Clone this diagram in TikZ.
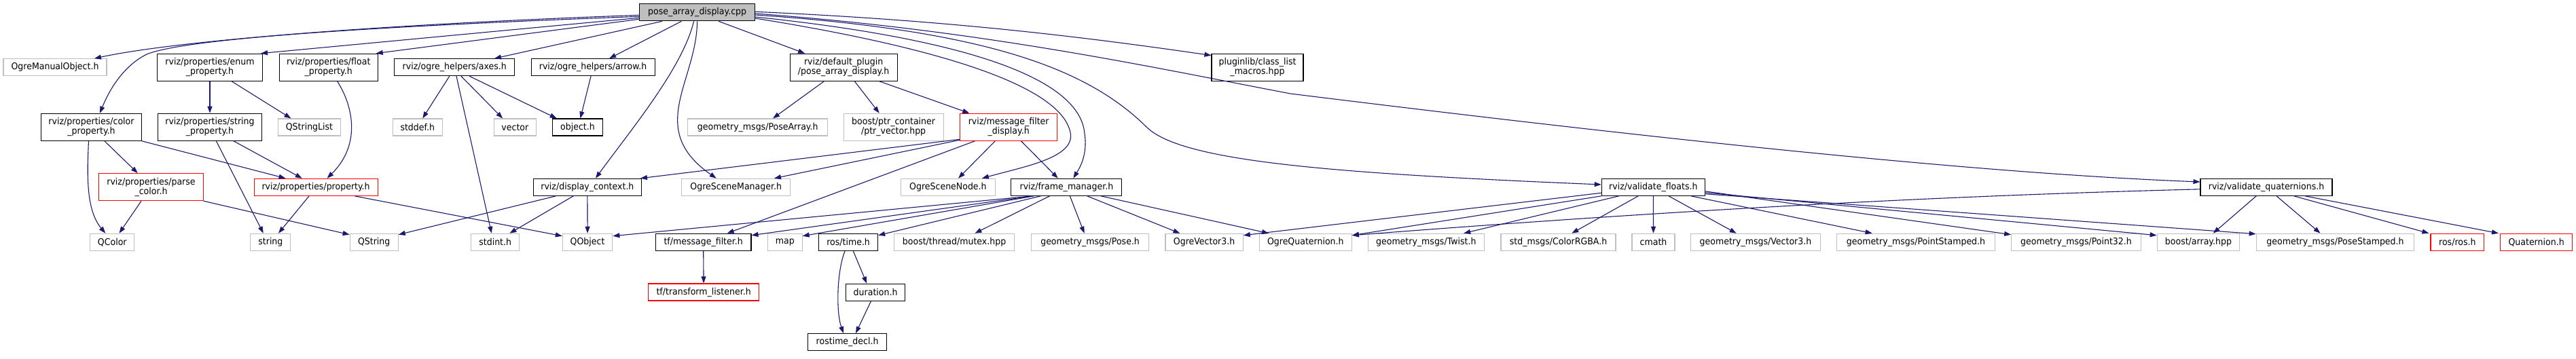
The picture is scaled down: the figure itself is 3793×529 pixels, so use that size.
\documentclass[tikz,border=0pt]{standalone}
\usepackage{fontspec}
\setmainfont{DejaVu Sans}[FakeStretch=0.93]
\usetikzlibrary{arrows.meta}
\definecolor{edgeblue}{HTML}{191970}
\definecolor{boxgray}{HTML}{BFBFBF}
\definecolor{boxred}{HTML}{FF0000}
\definecolor{rootgray}{HTML}{BFBFBF}
\tikzset{
  nbox/.style={rectangle, draw, line width=1.1pt, inner sep=0pt, minimum height=25pt, align=center, font=\fontsize{13.5}{14}\selectfont, text=black},
  gbox/.style={nbox, draw=boxgray},
  kbox/.style={nbox, draw=black},
  rbox/.style={nbox, draw=boxred},
  rootbox/.style={nbox, draw=black, fill=rootgray},
  tall/.style={minimum height=40pt},
  e/.style={draw=edgeblue, line width=1.1pt, -{Triangle[length=10pt,width=7pt]}},
}
\begin{document}
\begin{tikzpicture}[x=1pt,y=-1pt]
\useasboundingbox (0,0) rectangle (3793,529);
% rank 0
\node[rootbox, minimum width=170pt] (root) at (1026.6,18.3) {pose\_array\_display.cpp};
% rank 1
\node[gbox, minimum width=152pt] (ogreman) at (81,99.2) {OgreManualObject.h};
\node[kbox, tall, minimum width=155pt] (enum) at (309,99.2) {rviz/properties/enum\\\_property.h};
\node[kbox, tall, minimum width=145pt] (float) at (483.7,99.2) {rviz/properties/float\\\_property.h};
\node[kbox, minimum width=177pt] (axes) at (669.3,99.2) {rviz/ogre\_helpers/axes.h};
\node[kbox, minimum width=182pt] (arrowh) at (873.1,99.2) {rviz/ogre\_helpers/arrow.h};
\node[kbox, tall, minimum width=158pt] (defplug) at (1242.1,99.2) {rviz/default\_plugin\\/pose\_array\_display.h};
\node[kbox, tall, minimum width=135pt] (pluginlib) at (1851.5,99.2) {pluginlib/class\_list\\\_macros.hpp};
% rank 2
\node[kbox, tall, minimum width=148pt] (color) at (134.5,187.3) {rviz/properties/color\\\_property.h};
\node[kbox, tall, minimum width=153.5pt] (stringprop) at (309,187.3) {rviz/properties/string\\\_property.h};
\node[gbox, minimum width=92pt] (qstringlist) at (455.5,187.5) {QStringList};
\node[gbox, minimum width=73pt] (stddef) at (614.8,187.5) {stddef.h};
\node[gbox, minimum width=62pt] (vector) at (758.4,187.5) {vector};
\node[kbox, minimum width=73.5pt] (objecth) at (850.5,187.5) {object.h};
\node[gbox, minimum width=206pt] (posearray) at (1115.7,187.5) {geometry\_msgs/PoseArray.h};
\node[gbox, tall, minimum width=147pt] (ptrvec) at (1315.6,187.3) {boost/ptr\_container\\/ptr\_vector.hpp};
\node[rbox, tall, minimum width=143pt] (mfdisp) at (1485.2,187.3) {rviz/message\_filter\\\_display.h};
% rank 3
\node[rbox, tall, minimum width=153.5pt] (parsecolor) at (222.5,275.7) {rviz/properties/parse\\\_color.h};
\node[rbox, minimum width=182pt] (property) at (465.1,275.8) {rviz/properties/property.h};
\node[kbox, minimum width=159pt] (dispctx) at (864.9,275.8) {rviz/display\_context.h};
\node[gbox, minimum width=160pt] (scenemgr) at (1083.7,275.8) {OgreSceneManager.h};
\node[gbox, minimum width=139pt] (scenenode) at (1395.9,275.8) {OgreSceneNode.h};
\node[kbox, minimum width=163pt] (framemgr) at (1570.4,275.8) {rviz/frame\_manager.h};
\node[kbox, minimum width=152pt] (valfloats) at (2434.3,275.8) {rviz/validate\_floats.h};
\node[kbox, minimum width=194pt] (valquat) at (3337,275.8) {rviz/validate\_quaternions.h};
% rank 4
\node[gbox, minimum width=65pt] (qcolor) at (165.3,356.8) {QColor};
\node[gbox, minimum width=59pt] (stringh) at (398.4,356.8) {string};
\node[gbox, minimum width=71pt] (qstring) at (550.7,356.8) {QString};
\node[gbox, minimum width=71pt] (stdint) at (729.2,356.8) {stdint.h};
\node[gbox, minimum width=73.5pt] (qobject) at (865.1,356.8) {QObject};
\node[kbox, minimum width=140.5pt] (tfmf) at (1035.7,356.8) {tf/message\_filter.h};
\node[gbox, minimum width=50.6pt] (map) at (1155.8,356.8) {map};
\node[kbox, minimum width=87pt] (rostime) at (1249.1,356.8) {ros/time.h};
\node[gbox, minimum width=177.6pt] (mutex) at (1405.1,356.8) {boost/thread/mutex.hpp};
\node[gbox, minimum width=173.5pt] (pose) at (1605.1,356.8) {geometry\_msgs/Pose.h};
\node[gbox, minimum width=114.3pt] (ogrevec) at (1773.1,356.8) {OgreVector3.h};
\node[gbox, minimum width=136pt] (ogrequat) at (1922.3,356.8) {OgreQuaternion.h};
\node[gbox, minimum width=170.6pt] (twist) at (2099.8,356.8) {geometry\_msgs/Twist.h};
\node[gbox, minimum width=169pt] (colorrgba) at (2294.5,356.8) {std\_msgs/ColorRGBA.h};
\node[gbox, minimum width=63pt] (cmath) at (2434.5,356.8) {cmath};
\node[gbox, minimum width=191pt] (gvec3) at (2585,356.8) {geometry\_msgs/Vector3.h};
\node[gbox, minimum width=233pt] (pointst) at (2821,356.8) {geometry\_msgs/PointStamped.h};
\node[gbox, minimum width=190.6pt] (point32) at (3057,356.8) {geometry\_msgs/Point32.h};
\node[gbox, minimum width=121.4pt] (barray) at (3236.9,356.8) {boost/array.hpp};
\node[gbox, minimum width=232.6pt] (posest) at (3438.5,356.8) {geometry\_msgs/PoseStamped.h};
\node[rbox, minimum width=78.7pt] (rosros) at (3618.3,356.8) {ros/ros.h};
\node[rbox, minimum width=106.2pt] (quat) at (3734.6,356.8) {Quaternion.h};
% rank 5, 6
\node[rbox, minimum width=163.3pt] (tflistener) at (1036.1,430.5) {tf/transform\_listener.h};
\node[kbox, minimum width=87pt] (duration) at (1289.1,430.8) {duration.h};
\node[kbox, minimum width=116pt] (rostimedecl) at (1247.6,504.2) {rostime\_decl.h};

% root edges
\draw[e] ([yshift=-4pt]root.west) .. controls (560,36) and (260,60) .. ([xshift=58pt]ogreman.north);
\draw[e] ([yshift=-6pt]root.west) .. controls (520,40) and (270,58) .. (216,80) .. controls (180,98) and (160,135) .. ([xshift=12.5pt]color.north);
\draw[e] ([yshift=-8pt]root.west) -- ([xshift=-3pt]enum.north east);
\draw[e] ([yshift=-10pt]root.west) -- ([xshift=-3pt]float.north east);
\draw[e] ([xshift=-51.6pt]root.south) -- ([xshift=58.7pt]axes.north);
\draw[e] ([xshift=-23.2pt]root.south) -- ([xshift=24pt]arrowh.north);
\draw[e] ([xshift=-5pt]root.south) .. controls (1005,100) and (930,190) .. ([xshift=12pt]dispctx.north);
\draw[e] (root.south) .. controls (1026,120) and (950,190) .. ([xshift=-29pt]scenemgr.north);
\draw[e] ([xshift=31.5pt]root.south) -- ([xshift=-57pt]defplug.north);
\draw[e] ([yshift=1pt]root.east) .. controls (1400,30) and (1600,55) .. ([yshift=-3pt]pluginlib.north west);
\draw[e] ([yshift=-8.7pt]root.east) .. controls (1350,65) and (1560,120) .. (1576,195) .. controls (1584,232) and (1510,245) .. ([xshift=50pt]scenenode.north);
\draw[e] ([yshift=-6.7pt]root.east) .. controls (1400,55) and (1590,110) .. (1597,197) .. controls (1602,230) and (1588,250) .. ([xshift=10pt]framemgr.north);
\draw[e] ([yshift=-3.7pt]root.east) .. controls (1450,45) and (1600,100) .. (1688,187) .. controls (1738,237) and (1950,255) .. ([yshift=3.8pt]valfloats.west);
\draw[e] ([yshift=-1.7pt]root.east) .. controls (1450,45) and (1700,100) .. (1900,138) .. controls (2400,200) and (2900,255) .. ([yshift=7.8pt]valquat.west);
% properties
\draw[e] (enum.south) -- (stringprop.north);
\draw[e] ([xshift=32pt]enum.south) -- ([xshift=-27pt]qstringlist.north);
\draw[e] ([xshift=13pt]float.south) .. controls (522,160) and (530,215) .. ([xshift=16.5pt]property.north);
\draw[e] ([xshift=-4pt]color.south) .. controls (128,260) and (127,310) .. ([xshift=-10pt]qcolor.north);
\draw[e] ([xshift=19.4pt]color.south) -- ([xshift=-19.7pt]parsecolor.north);
\draw[e] (color.south east) -- ([xshift=-44.6pt]property.north);
\draw[e] ([xshift=9.4pt]stringprop.south) -- ([xshift=-10.6pt]stringh.north);
\draw[e] ([xshift=35pt]stringprop.south) -- ([xshift=-20.3pt]property.north);
\draw[e] ([xshift=-14.5pt]parsecolor.south) -- ([xshift=10.2pt]qcolor.north);
\draw[e] (parsecolor.south east) -- ([yshift=-2pt]qstring.north west);
\draw[e] ([xshift=-10pt]property.south) -- ([xshift=11.6pt]stringh.north);
\draw[e] ([xshift=57pt]property.south) -- ([yshift=-4pt]qobject.north west);
% display context
\draw[e] ([xshift=-46.4pt]dispctx.south) -- ([yshift=-2pt]qstring.north east);
\draw[e] ([xshift=-20.7pt]dispctx.south) -- ([xshift=21.2pt]stdint.north);
\draw[e] (dispctx.south) -- (qobject.north);
% axes, arrow
\draw[e] ([xshift=-7.5pt]axes.south) -- ([xshift=7.4pt]stddef.north);
\draw[e] ([xshift=9.7pt]axes.south) -- ([xshift=-18.2pt]vector.north);
\draw[e] ([xshift=21.9pt]axes.south) -- ([xshift=-30.8pt]objecth.north);
\draw[e] ([xshift=2.7pt]axes.south) -- ([xshift=-5.4pt]stdint.north);
\draw[e] ([xshift=-3pt]arrowh.south) -- ([xshift=4pt]objecth.north);
% default plugin
\draw[e] ([xshift=-28.7pt]defplug.south) -- ([xshift=22.3pt]posearray.north);
\draw[e] ([xshift=16.2pt]defplug.south) -- ([xshift=-20.9pt]ptrvec.north);
\draw[e] ([xshift=52.6pt]defplug.south) -- ([xshift=-57.9pt]mfdisp.north);
% message filter display
\draw[e] ([yshift=-18pt]mfdisp.west) -- ([xshift=-2pt]dispctx.north east);
\draw[e] ([yshift=-19pt]mfdisp.west) -- ([xshift=56.3pt]scenemgr.north);
\draw[e] ([xshift=-49.8pt]mfdisp.south) -- ([xshift=35pt]tfmf.north);
\draw[e] ([xshift=-20pt]mfdisp.south) -- ([xshift=15.1pt]scenenode.north);
\draw[e] ([xshift=18.4pt]mfdisp.south) -- ([xshift=-12.6pt]framemgr.north);
% frame manager
\draw[e] ([xshift=-50pt]framemgr.south) -- ([yshift=-4pt]qobject.north east);
\draw[e] ([xshift=-50pt]framemgr.south) -- ([yshift=-3pt]tfmf.north east);
\draw[e] ([xshift=-48pt]framemgr.south) -- ([yshift=-4pt]map.north east);
\draw[e] ([xshift=-38pt]framemgr.south) -- ([yshift=-3pt]rostime.north east);
\draw[e] ([xshift=-24.8pt]framemgr.south) -- ([xshift=30.3pt]mutex.north);
\draw[e] ([xshift=5pt]framemgr.south) -- ([xshift=-8.5pt]pose.north);
\draw[e] ([xshift=30.3pt]framemgr.south) -- ([xshift=-35.7pt]ogrevec.north);
\draw[e] ([xshift=50.6pt]framemgr.south) -- ([xshift=-54.3pt]ogrequat.north);
% ros time
\draw[e] ([xshift=-5pt]rostime.south) .. controls (1232,400) and (1231,460) .. ([xshift=-5.6pt]rostimedecl.north);
\draw[e] ([xshift=7.2pt]rostime.south) -- ([xshift=-12.8pt]duration.north);
\draw[e] ([xshift=-6.7pt]duration.south) -- ([xshift=12.4pt]rostimedecl.north);
\draw[e] (tfmf.south) -- (tflistener.north);
% validate floats
\draw[e] ([yshift=-8.5pt]valfloats.west) -- ([yshift=-3pt]ogrevec.north east);
\draw[e] (valfloats.south west) -- ([yshift=-3pt]ogrequat.north east);
\draw[e] ([xshift=-50.6pt]valfloats.south) -- ([xshift=55.4pt]twist.north);
\draw[e] ([xshift=-22.1pt]valfloats.south) -- ([xshift=19.8pt]colorrgba.north);
\draw[e] (valfloats.south) -- (cmath.north);
\draw[e] ([xshift=22.7pt]valfloats.south) -- ([xshift=-28.3pt]gvec3.north);
\draw[e] ([xshift=55.5pt]valfloats.south) -- ([xshift=-64.4pt]pointst.north);
\draw[e] ([yshift=-6pt]valfloats.east) -- ([yshift=-2pt]point32.north west);
\draw[e] ([yshift=-8pt]valfloats.east) -- ([yshift=-3pt]barray.north west);
\draw[e] ([yshift=-10pt]valfloats.east) -- ([yshift=-1pt]posest.north west);
% validate quaternions
\draw[e] ([yshift=-3pt]valquat.west) .. controls (2800,290) and (2400,315) .. ([yshift=-3pt]ogrequat.north east);
\draw[e] ([xshift=-14.8pt]valquat.south) -- ([xshift=21.8pt]barray.north);
\draw[e] ([xshift=15pt]valquat.south) -- ([xshift=-22pt]posest.north);
\draw[e] ([xshift=40.6pt]valquat.south) -- ([xshift=-2pt]rosros.north west);
\draw[e] ([xshift=57pt]valquat.south) -- ([xshift=-2pt]quat.north west);
\end{tikzpicture}
\end{document}
